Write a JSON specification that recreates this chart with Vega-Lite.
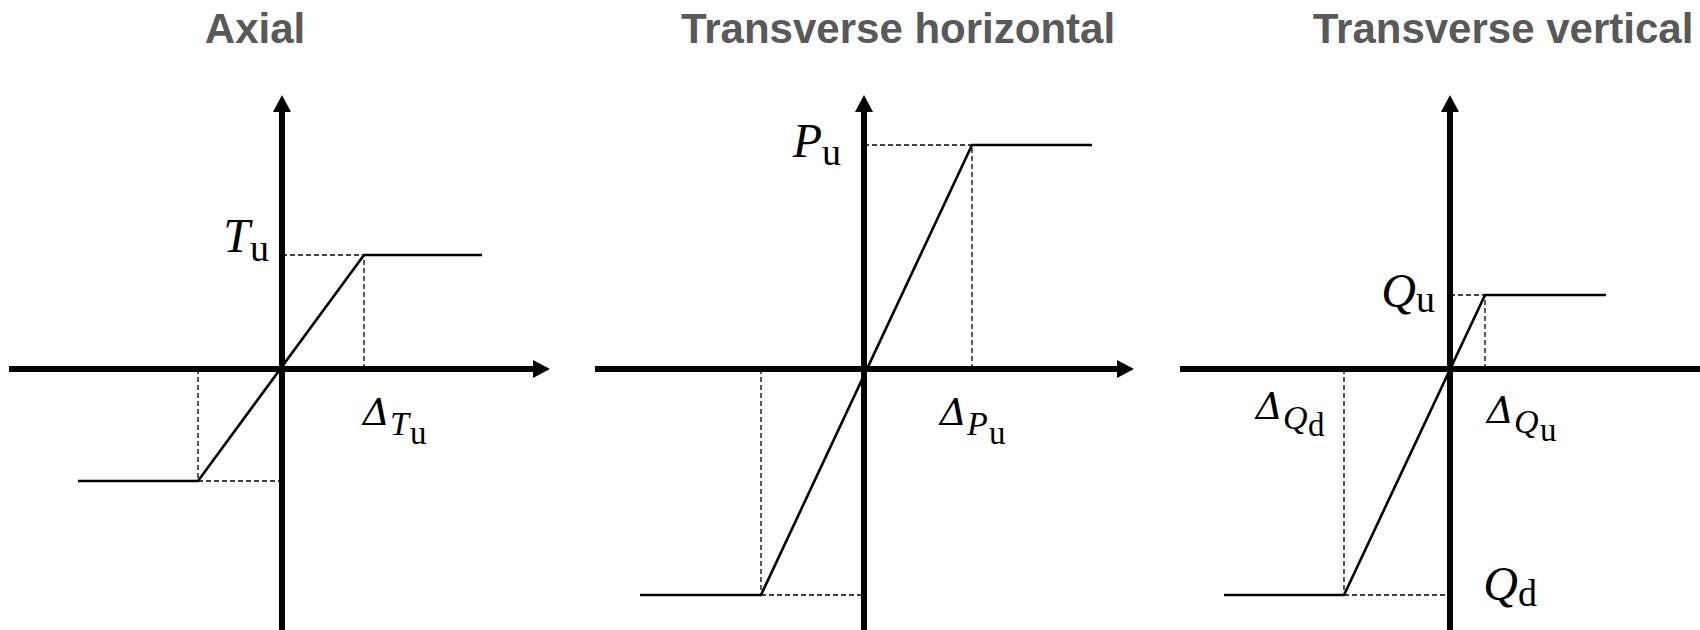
{
  "$schema": "https://vega.github.io/schema/vega-lite/v6.json",
  "description": "Idealised elastic-perfectly-plastic load-displacement laws for axial, transverse horizontal and transverse vertical springs.",
  "padding": 0,
  "spacing": 0,
  "bounds": "flush",
  "background": "white",
  "config": {
    "view": {"stroke": null},
    "style": {
      "panelTitle": {"font": "Liberation Sans", "fontSize": 42, "fontWeight": "bold", "align": "center", "baseline": "alphabetic"},
      "symMain": {"font": "Liberation Serif", "fontSize": 48, "fontStyle": "italic", "align": "right", "baseline": "alphabetic"},
      "symSub": {"font": "Liberation Serif", "fontSize": 38, "align": "left", "baseline": "alphabetic"},
      "symDelta": {"font": "DejaVu Serif", "fontSize": 38, "fontStyle": "italic", "align": "right", "baseline": "alphabetic"},
      "symDeltaSub": {"font": "Liberation Serif", "fontSize": 34, "fontStyle": "italic", "align": "left", "baseline": "alphabetic"},
      "symDeltaSubSub": {"font": "Liberation Serif", "fontSize": 33, "align": "left", "baseline": "alphabetic"}
    }
  },
  "datasets": {
    "axes": [
      {"panel": "axial", "x": -2.73, "y": 0, "x2": 2.56, "y2": 0},
      {"panel": "axial", "x": 0, "y": -2.75, "x2": 0, "y2": 2.58},
      {"panel": "horizontal", "x": -2.69, "y": 0, "x2": 2.55, "y2": 0},
      {"panel": "horizontal", "x": 0, "y": -2.75, "x2": 0, "y2": 2.58},
      {"panel": "vertical", "x": -2.70, "y": 0, "x2": 2.66, "y2": 0},
      {"panel": "vertical", "x": 0, "y": -2.75, "x2": 0, "y2": 2.58}
    ],
    "arrows": [
      {"panel": "axial", "dir": "up", "x": 0, "y": 2.74},
      {"panel": "axial", "dir": "right", "x": 2.68, "y": 0},
      {"panel": "horizontal", "dir": "up", "x": 0, "y": 2.74},
      {"panel": "horizontal", "dir": "right", "x": 2.70, "y": 0},
      {"panel": "vertical", "dir": "up", "x": 0, "y": 2.74},
      {"panel": "vertical", "dir": "right", "x": 2.80, "y": 0}
    ],
    "curves": [
      {"panel": "axial", "step": 1, "x": -2.04, "y": -1.12},
      {"panel": "axial", "step": 2, "x": -0.84, "y": -1.12},
      {"panel": "axial", "step": 3, "x": 0.82, "y": 1.14},
      {"panel": "axial", "step": 4, "x": 2.00, "y": 1.14},
      {"panel": "horizontal", "step": 1, "x": -2.24, "y": -2.26},
      {"panel": "horizontal", "step": 2, "x": -1.03, "y": -2.26},
      {"panel": "horizontal", "step": 3, "x": 1.08, "y": 2.24},
      {"panel": "horizontal", "step": 4, "x": 2.28, "y": 2.24},
      {"panel": "vertical", "step": 1, "x": -2.26, "y": -2.26},
      {"panel": "vertical", "step": 2, "x": -1.06, "y": -2.26},
      {"panel": "vertical", "step": 3, "x": 0.35, "y": 0.74},
      {"panel": "vertical", "step": 4, "x": 1.56, "y": 0.74}
    ],
    "guides": [
      {"panel": "axial", "x": 0.82, "y": 0, "x2": 0.82, "y2": 1.14},
      {"panel": "axial", "x": 0, "y": 1.14, "x2": 0.82, "y2": 1.14},
      {"panel": "axial", "x": -0.84, "y": 0, "x2": -0.84, "y2": -1.12},
      {"panel": "axial", "x": -0.84, "y": -1.12, "x2": 0, "y2": -1.12},
      {"panel": "horizontal", "x": 1.08, "y": 0, "x2": 1.08, "y2": 2.24},
      {"panel": "horizontal", "x": 0, "y": 2.24, "x2": 1.08, "y2": 2.24},
      {"panel": "horizontal", "x": -1.03, "y": 0, "x2": -1.03, "y2": -2.26},
      {"panel": "horizontal", "x": -1.03, "y": -2.26, "x2": 0, "y2": -2.26},
      {"panel": "vertical", "x": 0.35, "y": 0, "x2": 0.35, "y2": 0.74},
      {"panel": "vertical", "x": 0, "y": 0.74, "x2": 0.35, "y2": 0.74},
      {"panel": "vertical", "x": -1.06, "y": 0, "x2": -1.06, "y2": -2.26},
      {"panel": "vertical", "x": -1.06, "y": -2.26, "x2": 0, "y2": -2.26}
    ],
    "titles": [
      {"panel": "axial", "x": -0.27, "y": 3.26, "text": "Axial"},
      {"panel": "horizontal", "x": 0.34, "y": 3.26, "text": "Transverse horizontal"},
      {"panel": "vertical", "x": 0.53, "y": 3.26, "text": "Transverse vertical"}
    ],
    "symbols": [
      {"panel": "axial", "role": "main", "x": -0.32, "y": 1.17, "text": "T"},
      {"panel": "axial", "role": "sub", "x": -0.32, "y": 1.08, "text": "u"},
      {"panel": "axial", "role": "delta", "x": 1.08, "y": -0.56, "text": "Δ"},
      {"panel": "axial", "role": "deltaSub", "x": 1.08, "y": -0.66, "text": "T"},
      {"panel": "axial", "role": "deltaSubSub", "x": 1.28, "y": -0.75, "text": "u"},
      {"panel": "horizontal", "role": "main", "x": -0.42, "y": 2.12, "text": "P"},
      {"panel": "horizontal", "role": "sub", "x": -0.42, "y": 2.04, "text": "u"},
      {"panel": "horizontal", "role": "delta", "x": 1.03, "y": -0.56, "text": "Δ"},
      {"panel": "horizontal", "role": "deltaSub", "x": 1.03, "y": -0.66, "text": "P"},
      {"panel": "horizontal", "role": "deltaSubSub", "x": 1.25, "y": -0.75, "text": "u"},
      {"panel": "vertical", "role": "main", "x": -0.34, "y": 0.62, "text": "Q"},
      {"panel": "vertical", "role": "sub", "x": -0.34, "y": 0.57, "text": "u"},
      {"panel": "vertical", "role": "delta", "x": 0.64, "y": -0.54, "text": "Δ"},
      {"panel": "vertical", "role": "deltaSub", "x": 0.64, "y": -0.64, "text": "Q"},
      {"panel": "vertical", "role": "deltaSubSub", "x": 0.90, "y": -0.72, "text": "u"},
      {"panel": "vertical", "role": "delta", "x": -1.67, "y": -0.50, "text": "Δ"},
      {"panel": "vertical", "role": "deltaSub", "x": -1.67, "y": -0.60, "text": "Q"},
      {"panel": "vertical", "role": "deltaSubSub", "x": -1.42, "y": -0.67, "text": "d"},
      {"panel": "vertical", "role": "main", "x": 0.68, "y": -2.31, "text": "Q"},
      {"panel": "vertical", "role": "sub", "x": 0.68, "y": -2.37, "text": "d"}
    ]
  },
  "hconcat": [
    {
      "width": 584,
      "height": 630,
      "encoding": {
        "x": {"field": "x", "type": "quantitative", "scale": {"domain": [-2.82, 3.02], "nice": false, "zero": false}, "axis": null},
        "y": {"field": "y", "type": "quantitative", "scale": {"domain": [-2.61, 3.69], "nice": false, "zero": false}, "axis": null}
      },
      "layer": [
        {"data": {"name": "guides"}, "transform": [{"filter": "datum.panel === 'axial'"}], "mark": {"type": "rule", "color": "black", "strokeWidth": 1.3, "strokeDash": [5, 3], "clip": true}, "encoding": {"x2": {"field": "x2"}, "y2": {"field": "y2"}}},
        {"data": {"name": "axes"}, "transform": [{"filter": "datum.panel === 'axial'"}], "mark": {"type": "rule", "color": "black", "strokeWidth": 6, "strokeCap": "butt", "clip": true}, "encoding": {"x2": {"field": "x2"}, "y2": {"field": "y2"}}},
        {"data": {"name": "arrows"}, "transform": [{"filter": "datum.panel === 'axial'"}], "mark": {"type": "point", "filled": true, "color": "black", "opacity": 1, "size": 1156, "clip": true}, "encoding": {"shape": {"field": "dir", "type": "nominal", "scale": {"domain": ["up", "right"], "range": ["M0,0L0.53,1L-0.53,1Z", "M0,0L-1,-0.53L-1,0.53Z"]}, "legend": null}}},
        {"data": {"name": "curves"}, "transform": [{"filter": "datum.panel === 'axial'"}], "mark": {"type": "line", "color": "black", "strokeWidth": 2.6, "strokeJoin": "miter", "clip": true}, "encoding": {"order": {"field": "step", "type": "quantitative"}}},
        {"data": {"name": "symbols"}, "transform": [{"filter": "datum.panel === 'axial' && datum.role === 'main'"}], "mark": {"type": "text", "style": "symMain", "color": "black"}, "encoding": {"text": {"field": "text"}}},
        {"data": {"name": "symbols"}, "transform": [{"filter": "datum.panel === 'axial' && datum.role === 'sub'"}], "mark": {"type": "text", "style": "symSub", "color": "black"}, "encoding": {"text": {"field": "text"}}},
        {"data": {"name": "symbols"}, "transform": [{"filter": "datum.panel === 'axial' && datum.role === 'delta'"}], "mark": {"type": "text", "style": "symDelta", "color": "black"}, "encoding": {"text": {"field": "text"}}},
        {"data": {"name": "symbols"}, "transform": [{"filter": "datum.panel === 'axial' && datum.role === 'deltaSub'"}], "mark": {"type": "text", "style": "symDeltaSub", "color": "black"}, "encoding": {"text": {"field": "text"}}},
        {"data": {"name": "symbols"}, "transform": [{"filter": "datum.panel === 'axial' && datum.role === 'deltaSubSub'"}], "mark": {"type": "text", "style": "symDeltaSubSub", "color": "black"}, "encoding": {"text": {"field": "text"}}},
        {"data": {"name": "titles"}, "transform": [{"filter": "datum.panel === 'axial'"}], "mark": {"type": "text", "style": "panelTitle", "color": "#595959"}, "encoding": {"text": {"field": "text"}}}
      ]
    },
    {
      "width": 584,
      "height": 630,
      "encoding": {
        "x": {"field": "x", "type": "quantitative", "scale": {"domain": [-2.80, 3.04], "nice": false, "zero": false}, "axis": null},
        "y": {"field": "y", "type": "quantitative", "scale": {"domain": [-2.61, 3.69], "nice": false, "zero": false}, "axis": null}
      },
      "layer": [
        {"data": {"name": "guides"}, "transform": [{"filter": "datum.panel === 'horizontal'"}], "mark": {"type": "rule", "color": "black", "strokeWidth": 1.3, "strokeDash": [5, 3], "clip": true}, "encoding": {"x2": {"field": "x2"}, "y2": {"field": "y2"}}},
        {"data": {"name": "axes"}, "transform": [{"filter": "datum.panel === 'horizontal'"}], "mark": {"type": "rule", "color": "black", "strokeWidth": 6, "strokeCap": "butt", "clip": true}, "encoding": {"x2": {"field": "x2"}, "y2": {"field": "y2"}}},
        {"data": {"name": "arrows"}, "transform": [{"filter": "datum.panel === 'horizontal'"}], "mark": {"type": "point", "filled": true, "color": "black", "opacity": 1, "size": 1156, "clip": true}, "encoding": {"shape": {"field": "dir", "type": "nominal", "scale": {"domain": ["up", "right"], "range": ["M0,0L0.53,1L-0.53,1Z", "M0,0L-1,-0.53L-1,0.53Z"]}, "legend": null}}},
        {"data": {"name": "curves"}, "transform": [{"filter": "datum.panel === 'horizontal'"}], "mark": {"type": "line", "color": "black", "strokeWidth": 2.6, "strokeJoin": "miter", "clip": true}, "encoding": {"order": {"field": "step", "type": "quantitative"}}},
        {"data": {"name": "symbols"}, "transform": [{"filter": "datum.panel === 'horizontal' && datum.role === 'main'"}], "mark": {"type": "text", "style": "symMain", "color": "black"}, "encoding": {"text": {"field": "text"}}},
        {"data": {"name": "symbols"}, "transform": [{"filter": "datum.panel === 'horizontal' && datum.role === 'sub'"}], "mark": {"type": "text", "style": "symSub", "color": "black"}, "encoding": {"text": {"field": "text"}}},
        {"data": {"name": "symbols"}, "transform": [{"filter": "datum.panel === 'horizontal' && datum.role === 'delta'"}], "mark": {"type": "text", "style": "symDelta", "color": "black"}, "encoding": {"text": {"field": "text"}}},
        {"data": {"name": "symbols"}, "transform": [{"filter": "datum.panel === 'horizontal' && datum.role === 'deltaSub'"}], "mark": {"type": "text", "style": "symDeltaSub", "color": "black"}, "encoding": {"text": {"field": "text"}}},
        {"data": {"name": "symbols"}, "transform": [{"filter": "datum.panel === 'horizontal' && datum.role === 'deltaSubSub'"}], "mark": {"type": "text", "style": "symDeltaSubSub", "color": "black"}, "encoding": {"text": {"field": "text"}}},
        {"data": {"name": "titles"}, "transform": [{"filter": "datum.panel === 'horizontal'"}], "mark": {"type": "text", "style": "panelTitle", "color": "#595959"}, "encoding": {"text": {"field": "text"}}}
      ]
    },
    {
      "width": 532,
      "height": 630,
      "encoding": {
        "x": {"field": "x", "type": "quantitative", "scale": {"domain": [-2.82, 2.50], "nice": false, "zero": false}, "axis": null},
        "y": {"field": "y", "type": "quantitative", "scale": {"domain": [-2.61, 3.69], "nice": false, "zero": false}, "axis": null}
      },
      "layer": [
        {"data": {"name": "guides"}, "transform": [{"filter": "datum.panel === 'vertical'"}], "mark": {"type": "rule", "color": "black", "strokeWidth": 1.3, "strokeDash": [5, 3], "clip": true}, "encoding": {"x2": {"field": "x2"}, "y2": {"field": "y2"}}},
        {"data": {"name": "axes"}, "transform": [{"filter": "datum.panel === 'vertical'"}], "mark": {"type": "rule", "color": "black", "strokeWidth": 6, "strokeCap": "butt", "clip": true}, "encoding": {"x2": {"field": "x2"}, "y2": {"field": "y2"}}},
        {"data": {"name": "arrows"}, "transform": [{"filter": "datum.panel === 'vertical'"}], "mark": {"type": "point", "filled": true, "color": "black", "opacity": 1, "size": 1156, "clip": true}, "encoding": {"shape": {"field": "dir", "type": "nominal", "scale": {"domain": ["up", "right"], "range": ["M0,0L0.53,1L-0.53,1Z", "M0,0L-1,-0.53L-1,0.53Z"]}, "legend": null}}},
        {"data": {"name": "curves"}, "transform": [{"filter": "datum.panel === 'vertical'"}], "mark": {"type": "line", "color": "black", "strokeWidth": 2.6, "strokeJoin": "miter", "clip": true}, "encoding": {"order": {"field": "step", "type": "quantitative"}}},
        {"data": {"name": "symbols"}, "transform": [{"filter": "datum.panel === 'vertical' && datum.role === 'main'"}], "mark": {"type": "text", "style": "symMain", "color": "black"}, "encoding": {"text": {"field": "text"}}},
        {"data": {"name": "symbols"}, "transform": [{"filter": "datum.panel === 'vertical' && datum.role === 'sub'"}], "mark": {"type": "text", "style": "symSub", "color": "black"}, "encoding": {"text": {"field": "text"}}},
        {"data": {"name": "symbols"}, "transform": [{"filter": "datum.panel === 'vertical' && datum.role === 'delta'"}], "mark": {"type": "text", "style": "symDelta", "color": "black"}, "encoding": {"text": {"field": "text"}}},
        {"data": {"name": "symbols"}, "transform": [{"filter": "datum.panel === 'vertical' && datum.role === 'deltaSub'"}], "mark": {"type": "text", "style": "symDeltaSub", "color": "black"}, "encoding": {"text": {"field": "text"}}},
        {"data": {"name": "symbols"}, "transform": [{"filter": "datum.panel === 'vertical' && datum.role === 'deltaSubSub'"}], "mark": {"type": "text", "style": "symDeltaSubSub", "color": "black"}, "encoding": {"text": {"field": "text"}}},
        {"data": {"name": "titles"}, "transform": [{"filter": "datum.panel === 'vertical'"}], "mark": {"type": "text", "style": "panelTitle", "color": "#595959"}, "encoding": {"text": {"field": "text"}}}
      ]
    }
  ]
}
